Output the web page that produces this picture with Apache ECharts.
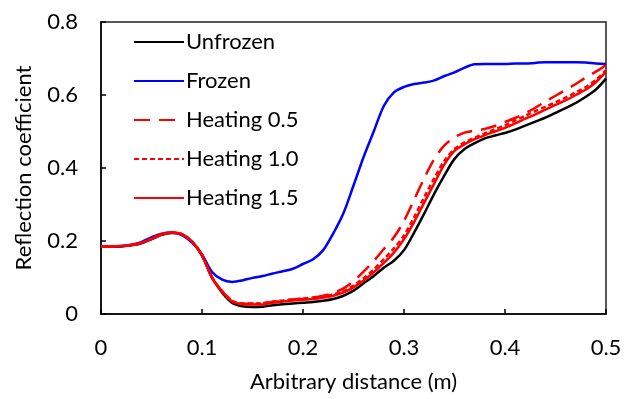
<!DOCTYPE html>
<html>
<head>
<meta charset="utf-8">
<script src="https://cdn.jsdelivr.net/npm/echarts@6/dist/echarts.min.js"></script>
<style>html,body{margin:0;padding:0;background:#fff}#c{width:634px;height:399px}</style>
</head>
<body>
<div id="c"></div>
<script>
var distance = [0,0.01,0.02,0.03,0.04,0.05,0.06,0.07,0.08,0.09,0.10,0.11,0.12,0.13,0.14,0.15,0.16,0.17,0.18,0.19,0.20,0.21,0.22,0.23,0.24,0.25,0.26,0.27,0.28,0.29,0.30,0.31,0.32,0.33,0.34,0.35,0.36,0.37,0.38,0.39,0.40,0.41,0.42,0.43,0.44,0.45,0.46,0.47,0.48,0.49,0.50];
var unfrozen = [0.184,0.184,0.185,0.188,0.194,0.205,0.217,0.222,0.218,0.198,0.160,0.100,0.058,0.030,0.021,0.019,0.020,0.024,0.027,0.029,0.031,0.033,0.036,0.041,0.050,0.064,0.084,0.104,0.127,0.146,0.175,0.223,0.275,0.330,0.380,0.425,0.452,0.468,0.481,0.489,0.496,0.505,0.516,0.527,0.538,0.551,0.564,0.578,0.595,0.615,0.645];
var frozen = [0.184,0.185,0.186,0.190,0.197,0.210,0.220,0.223,0.216,0.196,0.163,0.115,0.094,0.088,0.092,0.099,0.104,0.111,0.117,0.124,0.137,0.150,0.175,0.221,0.276,0.352,0.430,0.500,0.570,0.607,0.622,0.630,0.634,0.640,0.652,0.662,0.675,0.684,0.685,0.685,0.685,0.686,0.686,0.688,0.690,0.690,0.690,0.690,0.689,0.686,0.685];
var heating05 = [0.185,0.185,0.186,0.189,0.195,0.206,0.218,0.223,0.219,0.199,0.162,0.100,0.062,0.035,0.028,0.028,0.029,0.033,0.036,0.040,0.042,0.045,0.050,0.058,0.070,0.090,0.116,0.145,0.178,0.210,0.255,0.313,0.372,0.425,0.462,0.484,0.497,0.502,0.507,0.515,0.526,0.537,0.550,0.565,0.582,0.598,0.614,0.630,0.648,0.664,0.682];
var heating10 = [0.185,0.185,0.186,0.189,0.195,0.206,0.218,0.223,0.219,0.199,0.161,0.100,0.063,0.036,0.029,0.029,0.030,0.034,0.037,0.040,0.042,0.045,0.048,0.054,0.063,0.078,0.098,0.122,0.150,0.180,0.215,0.265,0.320,0.372,0.420,0.452,0.470,0.483,0.495,0.506,0.517,0.530,0.543,0.556,0.568,0.580,0.593,0.607,0.622,0.642,0.668];
var heating15 = [0.185,0.185,0.186,0.189,0.195,0.206,0.218,0.223,0.219,0.199,0.161,0.098,0.061,0.034,0.027,0.026,0.026,0.031,0.034,0.037,0.039,0.041,0.045,0.050,0.059,0.073,0.092,0.114,0.140,0.168,0.205,0.252,0.305,0.358,0.410,0.447,0.465,0.479,0.490,0.500,0.510,0.522,0.535,0.547,0.560,0.573,0.585,0.600,0.615,0.635,0.664];
var seriesNames = ['Unfrozen','Frozen','Heating 0.5','Heating 1.0','Heating 1.5'];
var xTicks = [0,0.1,0.2,0.3,0.4,0.5];
var yTicks = [0,0.2,0.4,0.6,0.8];

function pairs(ys){ return distance.map(function(x,i){ return [x, ys[i]]; }); }
var FONT = 'Lato';
var FS = 22;
var styles = [
  {color:'#000000', type:'solid'},
  {color:'#0000FF', type:'solid'},
  {color:'#FF0000', type:[16,9]},
  {color:'#FF0000', type:[5,3]},
  {color:'#FF0000', type:'solid'}
];
var datas = [unfrozen, frozen, heating05, heating10, heating15];
var chart = echarts.init(document.getElementById('c'));
chart.setOption({
  animation:false,
  backgroundColor:'#fff',
  grid:{left:101,right:28,top:22,bottom:85,show:true,borderColor:'#222',borderWidth:1.5,backgroundColor:'transparent'},
  legend:{
    orient:'vertical', left:133, top:31, padding:0,
    itemWidth:50, itemHeight:20, itemGap:17,
    itemStyle:{opacity:0},
    textStyle:{fontFamily:FONT,fontSize:FS,color:'#000',padding:[0,0,0,-3]},
    data:seriesNames
  },
  xAxis:{
    type:'value', min:xTicks[0], max:xTicks[xTicks.length-1], interval:0.1,
    name:'Arbitrary distance (m)', nameLocation:'middle', nameGap:57,
    nameTextStyle:{fontFamily:FONT,fontSize:FS,color:'#000'},
    axisLine:{show:true,lineStyle:{color:'#000',width:1.5}},
    axisTick:{show:true,inside:true,length:5,lineStyle:{color:'#000',width:1.5}},
    axisLabel:{fontFamily:FONT,fontSize:FS,color:'#000',margin:23,formatter:function(v){return v===0?'0':v.toFixed(1);}},
    splitLine:{show:false}
  },
  yAxis:{
    type:'value', min:yTicks[0], max:yTicks[yTicks.length-1], interval:0.2,
    name:'Reflection coefficient', nameLocation:'middle', nameGap:66,
    nameTextStyle:{fontFamily:FONT,fontSize:FS,color:'#000'},
    axisLine:{show:true,lineStyle:{color:'#000',width:1.5}},
    axisTick:{show:true,inside:true,length:5,lineStyle:{color:'#000',width:1.5}},
    axisLabel:{fontFamily:FONT,fontSize:FS,color:'#000',margin:23,formatter:function(v){return v===0?'0':v.toFixed(1);}},
    splitLine:{show:false}
  },
  series:seriesNames.map(function(n,i){
    return {name:n,type:'line',showSymbol:false,symbol:'none',smooth:0.3,
      data:pairs(datas[i]),
      lineStyle:{color:styles[i].color,width:2.5,type:styles[i].type},
      itemStyle:{color:styles[i].color}};
  })
});
</script>
</body>
</html>
